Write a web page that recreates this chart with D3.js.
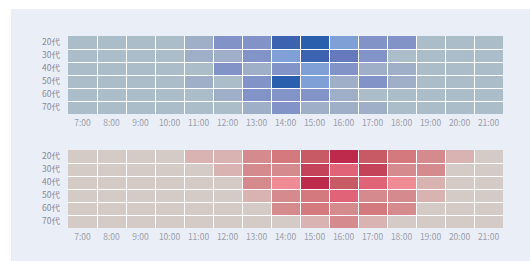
<!DOCTYPE html>
<html>
<head>
<meta charset="utf-8">
<script src="https://d3js.org/d3.v7.min.js"></script>
<style>
    body { margin: 0; background: #fff; }
    .axis text { font-family: "Noto Sans CJK JP", "Noto Sans", sans-serif; font-size: 8.5px; }
</style>
</head>
<body>
<svg id="chart" width="530" height="261"></svg>
<script>
    // data (colour level per cell)
    const hours = ["7:00", "8:00", "9:00", "10:00", "11:00", "12:00", "13:00", "14:00",
        "15:00", "16:00", "17:00", "18:00", "19:00", "20:00", "21:00"];
    const ages = ["20代", "30代", "40代", "50代", "60代", "70代"];

    const blueValues = [
        [0, 0, 0, 0, 1, 2, 2, 5, 6, 3, 2, 2, 0, 0, 0],
        [0, 0, 0, 0, 1, 1, 2, 3, 5, 4, 2, 0, 0, 0, 0],
        [0, 0, 0, 0, 0, 2, 1, 2, 3, 2, 1, 1, 0, 0, 0],
        [0, 0, 0, 0, 1, 0, 2, 6, 3, 1, 2, 1, 0, 0, 0],
        [0, 0, 0, 0, 0, 1, 2, 2, 2, 1, 0, 0, 0, 0, 0],
        [0, 0, 0, 0, 0, 0, 1, 2, 1, 1, 1, 0, 0, 0, 0]
    ];
    const redValues = [
        [0, 0, 0, 0, 1, 1, 2, 4, 6, 8, 6, 4, 2, 1, 0],
        [0, 0, 0, 0, 0, 1, 2, 2, 7, 5, 7, 2, 2, 0, 0],
        [0, 0, 0, 0, 0, 0, 2, 3, 8, 6, 5, 3, 1, 0, 0],
        [0, 0, 0, 0, 0, 0, 1, 2, 4, 5, 2, 2, 1, 0, 0],
        [0, 0, 0, 0, 0, 0, 0, 2, 4, 2, 4, 2, 0, 0, 0],
        [0, 0, 0, 0, 0, 0, 0, 0, 1, 2, 1, 0, 0, 0, 0]
    ];

    const blueColors = ["#aabdc9", "#9eafc7", "#8293c8", "#7fa0d6", "#6679bd", "#3d62b0", "#2a5fae"];
    const redColors = ["#d5cbc6", "#d9b3b1", "#d58b8d", "#ef8b95", "#d4797d", "#e06377", "#c85a66", "#c44358", "#bd2a4b"];

    const svg = d3.select("#chart");

    // light panel behind everything
    svg.append("rect")
        .attr("x", 11).attr("y", 9)
        .attr("width", 519).attr("height", 252)
        .attr("fill", "#eaeef7");

    const x = d3.scaleBand()
        .domain(hours)
        .range([68, 503]);

    function heatmap(values, colors, top) {
        const y = d3.scaleBand()
            .domain(ages)
            .range([top, top + 78]);

        const color = d3.scaleOrdinal()
            .domain(d3.range(colors.length))
            .range(colors);

        const cells = [];
        values.forEach(function(row, i) {
            row.forEach(function(v, j) {
                cells.push({ age: ages[i], hour: hours[j], value: v });
            });
        });

        const g = svg.append("g");

        // white gaps between cells
        g.append("rect")
            .attr("x", 68).attr("y", top)
            .attr("width", 435).attr("height", 78)
            .attr("fill", "#fff");

        g.selectAll("rect.cell")
            .data(cells)
            .join("rect")
            .attr("class", "cell")
            .attr("x", d => Math.round(x(d.hour)) + (d.hour === hours[0] ? 0 : 1))
            .attr("y", d => Math.round(y(d.age)) + (d.age === ages[0] ? 0 : 1))
            .attr("width", d => Math.round(x(d.hour) + x.bandwidth()) - Math.round(x(d.hour)) - (d.hour === hours[0] ? 0 : 1))
            .attr("height", d => Math.round(y(d.age) + y.bandwidth()) - Math.round(y(d.age)) - (d.age === ages[0] ? 0 : 1))
            .attr("fill", d => color(d.value));

        // age labels
        svg.append("g")
            .attr("class", "axis")
            .attr("transform", "translate(68,0)")
            .call(d3.axisLeft(y).tickSize(0).tickPadding(8))
            .call(a => a.select(".domain").remove())
            .selectAll("text").attr("fill", "#878b99");

        // hour labels
        svg.append("g")
            .attr("class", "axis")
            .attr("transform", "translate(0," + (top + 78) + ")")
            .call(d3.axisBottom(x).tickSize(0).tickPadding(6))
            .call(a => a.select(".domain").remove())
            .selectAll("text").attr("fill", "#9a9eab");
    }

    heatmap(blueValues, blueColors, 36);
    heatmap(redValues, redColors, 150);
</script>
</body>
</html>
